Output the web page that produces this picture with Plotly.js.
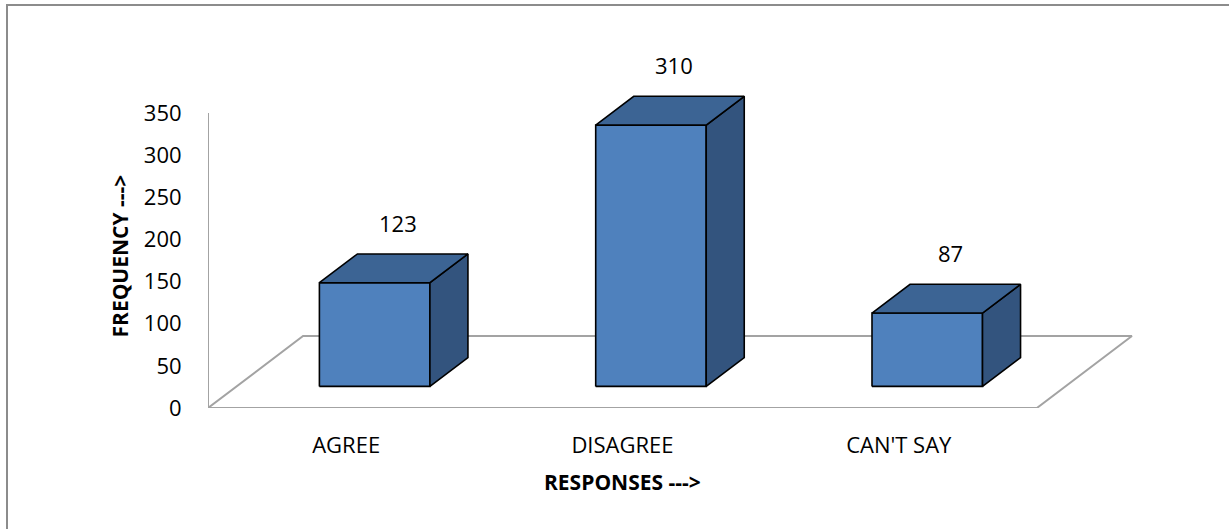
<!DOCTYPE html>
<html>
<head>
<meta charset="utf-8">
<script src="https://cdn.plot.ly/plotly-3.0.1.min.js"></script>
<style>
  html, body { margin: 0; padding: 0; background: #ffffff; }
  #wrap { position: relative; width: 1229px; height: 529px; overflow: hidden; }
  #frame { position: absolute; left: 6px; top: 4px; width: 1240px; height: 540px;
           border-top: 2px solid #8c8c8c; border-left: 2px solid #8c8c8c; box-sizing: border-box; pointer-events: none; }
  #chart { position: absolute; left: 0; top: 0; width: 1229px; height: 529px; }
</style>
</head>
<body>
<div id="wrap">
  <div id="chart"></div>
  <div id="frame"></div>
</div>
<script>
// Survey responses
const categories = ['AGREE', 'DISAGREE', "CAN'T SAY"];
const frequencies = [123, 310, 87];
const yTicks = [0, 50, 100, 150, 200, 250, 300, 350];

// 3-D look: floor depth expressed in axis units
const DEPTH_X = 0.344;   // horizontal shift of the back edge (category units)
const DEPTH_Y = 85.4;    // vertical shift of the back edge (value units)
const BAR_FRONT = 0.3;   // bar front face position inside the floor depth
const BAR_BACK = 0.7;    // bar back face position inside the floor depth
const HALF_W = 0.2;      // half the bar width (category units)
const AXIS_MAX = yTicks[yTicks.length - 1];

const FONT = 'Open Sans, Liberation Sans, sans-serif';
const COL_FRONT = '#4f81bd';
const COL_TOP = '#3c6494';
const COL_SIDE = '#33547e';
const GRID = '#a3a3a3';

const traces = [];

// floor parallelogram
const xl = -0.5, xr = categories.length - 0.5;
traces.push({
  type: 'scatter', mode: 'lines', hoverinfo: 'skip', showlegend: false,
  x: [xl, xr, xr + DEPTH_X, xl + DEPTH_X, xl],
  y: [0, 0, DEPTH_Y, DEPTH_Y, 0],
  line: { color: GRID, width: 2 }
});

function face(xs, ys, color) {
  traces.push({
    type: 'scatter', mode: 'lines', fill: 'toself', fillcolor: color,
    hoverinfo: 'skip', showlegend: false,
    x: xs.concat([xs[0]]), y: ys.concat([ys[0]]),
    line: { color: '#000000', width: 1.6 }
  });
}

const annotations = [];
frequencies.forEach((v, i) => {
  const fx0 = BAR_FRONT * DEPTH_X, fy0 = BAR_FRONT * DEPTH_Y;
  const fx1 = BAR_BACK * DEPTH_X, fy1 = BAR_BACK * DEPTH_Y;
  const l = i - HALF_W, r = i + HALF_W;
  // front
  face([l + fx0, r + fx0, r + fx0, l + fx0], [fy0, fy0, fy0 + v, fy0 + v], COL_FRONT);
  // right side
  face([r + fx0, r + fx1, r + fx1, r + fx0], [fy0, fy1, fy1 + v, fy0 + v], COL_SIDE);
  // top
  face([l + fx0, r + fx0, r + fx1, l + fx1], [fy0 + v, fy0 + v, fy1 + v, fy1 + v], COL_TOP);
  // value label above the bar
  annotations.push({
    x: i + 0.5 * (fx0 + fx1), y: fy1 + v, xref: 'x', yref: 'y',
    text: String(v), showarrow: false, yanchor: 'middle', xanchor: 'center',
    xshift: 4, yshift: 31,
    font: { family: FONT, size: 22, color: '#000000' }
  });
});

// axis titles
annotations.push({
  x: -0.5, y: AXIS_MAX / 2, xref: 'x', yref: 'y', xshift: -88, yshift: 4,
  text: '<b>FREQUENCY ---></b>', textangle: -90, showarrow: false,
  xanchor: 'center', yanchor: 'middle',
  font: { family: FONT, size: 21, color: '#000000' }
});
annotations.push({
  x: (categories.length - 1) / 2, y: 0, xref: 'x', yref: 'y', yshift: -74,
  text: '<b>RESPONSES ---></b>', showarrow: false,
  xanchor: 'center', yanchor: 'middle',
  font: { family: FONT, size: 21, color: '#000000' }
});

const W = 1229, H = 529;
const M = { l: 208, r: 82, t: 37, b: 121 };
const PX_PER_CAT = 276.3;
const PX_PER_VAL = 0.8429;

const layout = {
  width: W, height: H,
  margin: M,
  paper_bgcolor: 'rgba(0,0,0,0)', plot_bgcolor: 'rgba(0,0,0,0)',
  showlegend: false,
  font: { family: FONT, size: 22, color: '#000000' },
  xaxis: {
    range: [-0.5, -0.5 + (W - M.l - M.r) / PX_PER_CAT],
    tickmode: 'array', tickvals: categories.map((c, i) => i), ticktext: categories,
    showgrid: false, zeroline: false, showline: false,
    ticks: 'outside', ticklen: 18, tickcolor: 'rgba(0,0,0,0)',
    tickfont: { family: FONT, size: 22, color: '#000000' },
    fixedrange: true
  },
  yaxis: {
    range: [0, (H - M.t - M.b) / PX_PER_VAL],
    tickmode: 'array', tickvals: yTicks, ticktext: yTicks.map(String),
    showgrid: false, zeroline: false, showline: false,
    ticks: 'outside', ticklen: 21, tickcolor: 'rgba(0,0,0,0)',
    tickfont: { family: FONT, size: 22, color: '#000000' },
    fixedrange: true
  },
  shapes: [{
    type: 'line', xref: 'x', yref: 'y', x0: -0.5, x1: -0.5, y0: 0, y1: AXIS_MAX,
    line: { color: GRID, width: 2 }
  }],
  annotations: annotations
};

Plotly.newPlot('chart', traces, layout, { displayModeBar: false, staticPlot: true });
</script>
</body>
</html>
